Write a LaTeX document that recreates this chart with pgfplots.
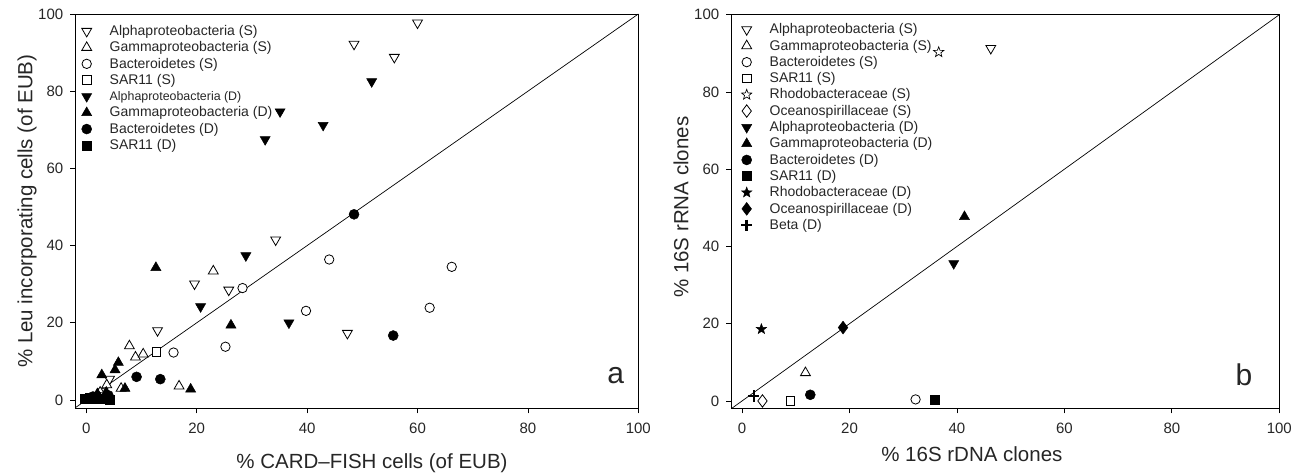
\documentclass[border=0pt]{standalone}
\usepackage{fontspec}
\setmainfont{Liberation Sans}
\usepackage{pgfplots}
\pgfplotsset{compat=1.18}

\pgfdeclareplotmark{fstar}{%
  \pgfpathmoveto{\pgfpointpolar{90}{1\pgfplotmarksize}}%
  \pgfpathlineto{\pgfpointpolar{126}{0.42\pgfplotmarksize}}%
  \pgfpathlineto{\pgfpointpolar{162}{1\pgfplotmarksize}}%
  \pgfpathlineto{\pgfpointpolar{198}{0.42\pgfplotmarksize}}%
  \pgfpathlineto{\pgfpointpolar{234}{1\pgfplotmarksize}}%
  \pgfpathlineto{\pgfpointpolar{270}{0.42\pgfplotmarksize}}%
  \pgfpathlineto{\pgfpointpolar{306}{1\pgfplotmarksize}}%
  \pgfpathlineto{\pgfpointpolar{342}{0.42\pgfplotmarksize}}%
  \pgfpathlineto{\pgfpointpolar{18}{1\pgfplotmarksize}}%
  \pgfpathlineto{\pgfpointpolar{54}{0.42\pgfplotmarksize}}%
  \pgfpathclose
  \pgfusepathqfillstroke
}

\pgfplotsset{
  panel/.style={
    scale only axis,
    xmin=-2, xmax=100,
    ymax=100,
    xtick={0,20,...,100}, ytick={0,20,...,100},
    tick align=outside, xtick pos=left, ytick pos=left,
    major tick length=5pt,
    axis line style={line width=0.8pt, black},
    every tick/.style={black, line width=0.8pt},
    tick label style={font=\fontsize{15}{17}\selectfont, text=black!85},
    xticklabel style={yshift=-6.5pt},
    yticklabel style={xshift=-3.5pt},
    /pgf/number format/assume math mode=true,
    label style={font=\fontsize{20.5}{24}\selectfont, text=black!85},
    legend cell align=left,
    legend image code/.code={\path[draw=none,fill=none] (-8pt,-5pt) rectangle (8pt,5pt); \draw[##1, only marks] plot coordinates {(0pt,0pt)};},
    legend style={draw=none, fill=none, inner sep=0pt, outer sep=0pt,
      row sep=0.8pt, column sep=13pt,
      font=\fontsize{14}{16}\selectfont, text=black!85,
      cells={text height=10pt, text depth=3pt, inner sep=0pt},
      anchor=north west},
  },
  aS/.style={only marks, mark=triangle*, mark size=5.7pt, mark options={rotate=180, fill=white, draw=black, line width=0.8pt}},
  gS/.style={only marks, mark=triangle*, mark size=5.7pt, mark options={fill=white, draw=black, line width=0.8pt}},
  bS/.style={only marks, mark=*, mark size=4.7pt, mark options={fill=white, draw=black, line width=0.8pt}},
  sS/.style={only marks, mark=square*, mark size=4.3pt, mark options={fill=white, draw=black, line width=0.8pt}},
  rS/.style={only marks, mark=fstar, mark size=5.4pt, mark options={fill=white, draw=black, line width=0.65pt}},
  oS/.style={only marks, mark=diamond*, mark size=6.2pt, mark options={fill=white, draw=black, line width=0.8pt}},
  aD/.style={only marks, mark=triangle*, mark size=5.8pt, mark options={rotate=180, fill=black, draw=black, line width=0.5pt}},
  gD/.style={only marks, mark=triangle*, mark size=5.8pt, mark options={fill=black, draw=black, line width=0.5pt}},
  bD/.style={only marks, mark=*, mark size=5pt, mark options={fill=black, draw=black, line width=0.5pt}},
  sD/.style={only marks, mark=square*, mark size=4.5pt, mark options={fill=black, draw=black, line width=0.5pt}},
  rD/.style={only marks, mark=fstar, mark size=5.4pt, mark options={fill=black, draw=black, line width=0.5pt}},
  oD/.style={only marks, mark=diamond*, mark size=6.4pt, mark options={fill=black, draw=black, line width=0.5pt}},
  beD/.style={only marks, mark=+, mark size=5.6pt, mark options={draw=black, line width=2.7pt}},
}

\begin{document}
\begin{tikzpicture}
\useasboundingbox (-75.3pt,-65.7pt) rectangle (1225.7pt,408.3pt);

% ---------------- panel a ----------------
\begin{axis}[panel,
  at={(0pt,0pt)}, anchor=south west,
  width=563pt, height=394.3pt,
  ymin=-2.15,
  xlabel={\% CARD–FISH cells (of EUB)},
  ylabel={\% Leu incorporating cells (of EUB)},
  xlabel style={at={(axis description cs:0.527,-0.1522)}, anchor=base},
  ylabel style={at={(axis description cs:-0.0764,0.5)}, anchor=base, rotate=0},
  legend style={at={(axis description cs:0,1)}, xshift=3.4pt, yshift=-9.5pt},
]
\addplot[black, line width=0.7pt, forget plot] coordinates {(-5,-5) (100,100)};

\addplot[aS] coordinates {(60.0,97.7) (48.5,92.2) (55.8,88.8) (34.3,41.5) (19.6,30.1) (25.8,28.5) (12.9,18.0) (47.3,17.3) (4.2,5.4) (3.0,2.2)};
\addlegendentry{Alphaproteobacteria (S)}
\addplot[gS] coordinates {(23.0,33.4) (7.8,14.0) (8.9,11.1) (10.3,11.9) (3.7,3.9) (6.3,3.0) (16.8,3.6) (2.5,2.0)};
\addlegendentry{Gammaproteobacteria (S)}
\addplot[bS] coordinates {(44.0,36.4) (28.3,29.0) (39.8,23.1) (66.2,34.5) (62.2,23.9) (15.8,12.3) (25.2,13.8)};
\addlegendentry{Bacteroidetes (S)}
\addplot[sS] coordinates {(12.7,12.5)};
\addlegendentry{SAR11 (S)}
\addplot[aD] coordinates {(35.1,74.7) (42.9,71.2) (32.4,67.5) (51.7,82.5) (28.9,37.4) (20.7,24.2) (36.7,20.0) (1.8,1.2)};
\addlegendentry{\fontsize{12.4}{14}\selectfont Alphaproteobacteria (D)}
\addplot[gD] coordinates {(12.6,34.3) (26.2,19.4) (5.8,9.7) (5.2,7.8) (2.8,6.5) (7.0,3.0) (18.9,2.8) (2.0,1.6) (3.6,2.0)};
\addlegendentry{Gammaproteobacteria (D)}
\addplot[bD] coordinates {(48.5,48.1) (55.6,16.7) (9.1,6.0) (13.4,5.4) (1.2,0.9) (4.0,1.2)};
\addlegendentry{Bacteroidetes (D)}
\addplot[sD] coordinates {(-0.2,0.2) (1.0,0.2) (2.8,0.2) (4.3,0.0) (0.6,0.6)};
\addlegendentry{SAR11 (D)}

\node[font=\fontsize{30}{36}\selectfont, text=black!85] at (axis cs:95.9,6.3) {a};
\end{axis}

% ---------------- panel b ----------------
\begin{axis}[panel,
  at={(656pt,0pt)}, anchor=south west,
  width=548pt, height=393.6pt,
  ymin=-1.9,
  xlabel={\% 16S rDNA clones},
  ylabel={\% 16S rRNA clones},
  xlabel style={at={(axis description cs:0.439,-0.1357)}, anchor=base},
  ylabel style={at={(axis description cs:-0.0785,0.511)}, anchor=base, rotate=0},
  legend style={at={(axis description cs:0,1)}, xshift=7.4pt, yshift=-7.1pt},
]
\addplot[black, line width=0.7pt, forget plot] coordinates {(-5,-5) (100,100)};

\addplot[aS] coordinates {(46.3,91.3)};
\addlegendentry{Alphaproteobacteria (S)}
\addplot[gS] coordinates {(11.8,7.3)};
\addlegendentry{Gammaproteobacteria (S)}
\addplot[bS] coordinates {(32.3,0.4)};
\addlegendentry{Bacteroidetes (S)}
\addplot[sS] coordinates {(9.0,0.0)};
\addlegendentry{SAR11 (S)}
\addplot[rS] coordinates {(36.6,90.3)};
\addlegendentry{Rhodobacteraceae (S)}
\addplot[oS] coordinates {(3.8,0.0)};
\addlegendentry{Oceanospirillaceae (S)}
\addplot[aD] coordinates {(39.4,35.6)};
\addlegendentry{Alphaproteobacteria (D)}
\addplot[gD] coordinates {(41.4,47.7)};
\addlegendentry{Gammaproteobacteria (D)}
\addplot[bD] coordinates {(12.7,1.6)};
\addlegendentry{Bacteroidetes (D)}
\addplot[sD] coordinates {(35.8,0.4)};
\addlegendentry{SAR11 (D)}
\addplot[rD] coordinates {(3.6,18.6)};
\addlegendentry{Rhodobacteraceae (D)}
\addplot[oD] coordinates {(18.8,19.0)};
\addlegendentry{Oceanospirillaceae (D)}
\addplot[beD] coordinates {(2.2,1.3)};
\addlegendentry{Beta (D)}

\node[font=\fontsize{30}{36}\selectfont, text=black!85] at (axis cs:93.4,6.7) {b};
\end{axis}
\end{tikzpicture}
\end{document}
